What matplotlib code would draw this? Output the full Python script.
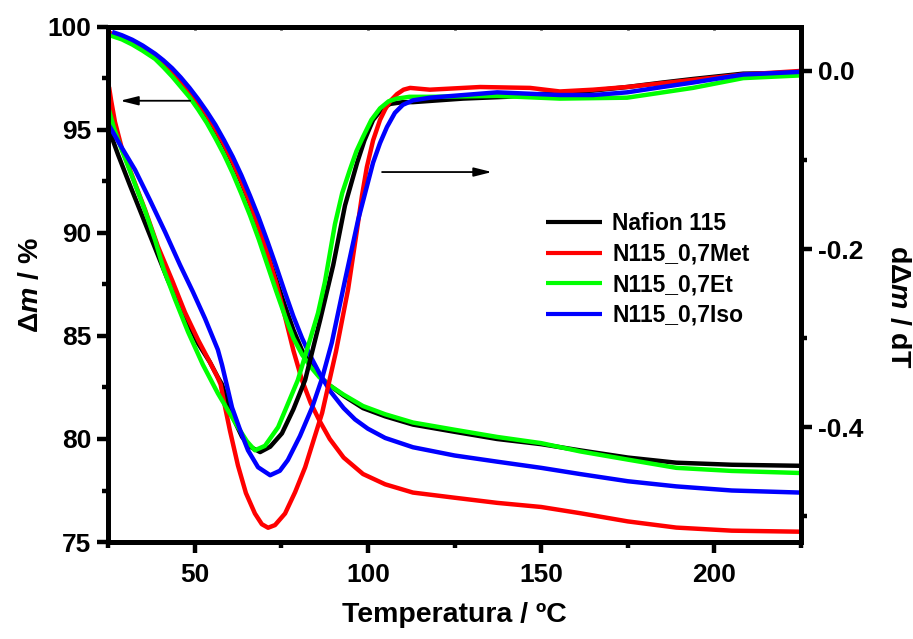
import matplotlib
matplotlib.use('Agg')
import matplotlib.pyplot as plt
from matplotlib.ticker import MultipleLocator, FixedLocator, NullFormatter

plt.rcParams['font.family'] = ['Liberation Sans', 'DejaVu Sans']
plt.rcParams['font.weight'] = 'bold'
plt.rcParams['mathtext.fontset'] = 'custom'
plt.rcParams['mathtext.rm'] = 'Liberation Sans:bold'
plt.rcParams['mathtext.it'] = 'Liberation Sans:italic:bold'
plt.rcParams['mathtext.bf'] = 'Liberation Sans:bold'
plt.rcParams['axes.unicode_minus'] = False

# ---------------- data ----------------
labels = ['Nafion 115', 'N115_0,7Met', 'N115_0,7Et', 'N115_0,7Iso']
colors = ['#000000', '#ff0000', '#00ff00', '#0000ff']

# TGA (mass, left axis)
t_tga_naf = [25.5, 29, 32, 35, 38.6, 41, 43.5, 46, 48.5, 51, 53.5, 56, 58.5, 61, 63.5, 66, 68.5, 71, 73.5, 76,
             78.5, 81, 83.5, 86, 89, 93, 98.6, 105, 113, 125, 137.3, 150, 161.2, 175, 189, 205, 224.7]
tga_naf = [99.7, 99.5, 99.25, 98.95, 98.55, 98.2, 97.8, 97.35, 96.85, 96.3, 95.7, 95.0, 94.25, 93.4, 92.45, 91.4,
           90.25, 89.0, 87.75, 86.5, 85.3, 84.3, 83.6, 83.05, 82.6, 82.1, 81.5, 81.1, 80.7, 80.35, 80.0, 79.75,
           79.45, 79.1, 78.85, 78.75, 78.7]

t_tga_met = [25.5, 29, 32, 35, 38.6, 41, 43.5, 46, 48.5, 51, 53.5, 56, 58.5, 61, 63.5, 66, 68.5, 71, 73.5, 76,
             78.5, 81, 83.5, 86, 89, 93, 98.6, 105, 113, 125, 137.3, 150, 161.2, 175, 189, 205, 224.7]
tga_met = [99.7, 99.5, 99.28, 99.0, 98.6, 98.25, 97.85, 97.4, 96.9, 96.35, 95.75, 95.05, 94.3, 93.45, 92.5, 91.45,
           90.3, 89.0, 87.6, 86.0, 84.3, 82.85, 81.75, 80.9, 80.0, 79.1, 78.3, 77.8, 77.4, 77.15, 76.9, 76.7,
           76.4, 76.0, 75.7, 75.55, 75.5]

t_tga_et = [25.5, 29, 32, 35, 38.6, 41, 43.5, 46, 48.5, 51, 53.5, 56, 58.5, 61, 63.5, 66, 68.5, 71, 73.5, 76,
            78.5, 81, 83.5, 86, 89, 93, 98.6, 105, 113, 125, 137.3, 150, 161.2, 175, 189, 205, 224.7]
tga_et = [99.6, 99.4, 99.15, 98.85, 98.45, 98.05, 97.6, 97.1, 96.6, 96.0, 95.35, 94.6, 93.8, 92.9, 91.9, 90.85,
          89.7, 88.45, 87.2, 86.0, 84.9, 84.1, 83.5, 83.0, 82.6, 82.15, 81.6, 81.2, 80.8, 80.45, 80.1, 79.8,
          79.4, 79.0, 78.6, 78.45, 78.35]

t_tga_iso = [26.2, 29, 32, 35, 38.6, 41, 43.5, 46, 48.5, 51, 53.5, 56, 58.5, 61, 63.5, 66, 68.5, 71, 73.5, 76,
             78.5, 81, 83.5, 86, 89, 93, 96.3, 100, 105, 113, 125, 137.3, 150, 161.2, 175, 189, 205, 224.7]
tga_iso = [99.76, 99.6, 99.38, 99.1, 98.7, 98.38, 98.0, 97.55, 97.05, 96.5, 95.9, 95.25, 94.5, 93.7, 92.8, 91.8,
           90.75, 89.6, 88.4, 87.15, 85.95, 84.9, 84.0, 83.2, 82.35, 81.5, 80.95, 80.5, 80.05, 79.6, 79.2, 78.9,
           78.6, 78.3, 77.95, 77.7, 77.5, 77.4]

# DTG (derivative, right axis)
t_dtg_naf = [25.3, 27.9, 31.3, 34.8, 38.6, 42.3, 46.6, 51.0, 54.4, 56.7, 57.9, 59.1, 61.4, 63.7, 66.0, 68.9, 71.8,
             75.2, 78.5, 81.9, 86.2, 90.0, 93.4, 96.9, 99, 101.5, 104, 106.4, 110, 113, 127.5, 140, 155.4, 165,
             174.8, 185, 193.8, 208.3, 224.7]
dtg_naf = [-0.066, -0.094, -0.128, -0.162, -0.199, -0.235, -0.271, -0.306, -0.327, -0.344, -0.352, -0.367, -0.392,
           -0.411, -0.422, -0.428, -0.422, -0.407, -0.380, -0.347, -0.280, -0.218, -0.151, -0.103, -0.078, -0.055,
           -0.043, -0.037, -0.035, -0.035, -0.031, -0.029, -0.024, -0.022, -0.018, -0.013, -0.009, -0.003, -0.002]

t_dtg_met = [25.3, 25.9, 27.0, 29.0, 31.9, 35.7, 39.4, 43.5, 47.2, 51.0, 54.4, 56.5, 57.5, 58.5, 60.2, 62.5, 64.8,
             67.4, 69.4, 71.2, 73.2, 76.1, 79.0, 81.9, 86.8, 90.8, 94.3, 96.8, 98.3, 99.7, 101.5, 103.5, 105,
             106.4, 108.4, 110.3, 112.2, 115, 117.9, 132.4, 146.8, 155.4, 165, 174.8, 193.8, 208.3, 224.7]
dtg_met = [-0.018, -0.033, -0.057, -0.087, -0.117, -0.156, -0.197, -0.235, -0.271, -0.302, -0.327, -0.343, -0.352,
           -0.372, -0.404, -0.443, -0.474, -0.497, -0.509, -0.513, -0.510, -0.497, -0.473, -0.445, -0.384, -0.315,
           -0.245, -0.180, -0.140, -0.108, -0.078, -0.055, -0.043, -0.034, -0.026, -0.021, -0.019, -0.020, -0.021,
           -0.018, -0.019, -0.023, -0.021, -0.018, -0.010, -0.004, 0.000]

t_dtg_et = [25.3, 26.7, 29.0, 31.9, 35.7, 38.6, 41.0, 44.3, 48.1, 52.4, 56.7, 59.6, 62.5, 65.1, 67.4, 70.3, 74.1,
            79.8, 85.6, 87.6, 90.5, 92.6, 94.8, 96.7, 98.6, 101, 103.5, 106, 108.4, 112, 117.9, 137.3, 155.4,
            174.8, 193.8, 208.3, 224.7]
dtg_et = [-0.044, -0.064, -0.089, -0.118, -0.157, -0.190, -0.222, -0.256, -0.293, -0.330, -0.362, -0.381, -0.400,
          -0.416, -0.426, -0.421, -0.400, -0.347, -0.272, -0.237, -0.172, -0.137, -0.111, -0.090, -0.074, -0.055,
          -0.042, -0.034, -0.031, -0.029, -0.029, -0.028, -0.031, -0.030, -0.019, -0.008, -0.005]

t_dtg_iso = [25.3, 28.5, 32.8, 37.1, 41.5, 45.8, 49.5, 53.0, 56.7, 57.9, 59.3, 60.8, 63.1, 65.4, 68.3, 71.8, 74.6,
             76.9, 80.4, 83.9, 86.8, 89.6, 93.4, 97.2, 101.5, 103.5, 105.5, 107.8, 110.1, 113, 117.9, 137.3, 155.4,
             165, 174.8, 185, 193.8, 208.3, 224.7]
dtg_iso = [-0.061, -0.083, -0.111, -0.145, -0.181, -0.218, -0.248, -0.278, -0.313, -0.330, -0.353, -0.378, -0.403,
           -0.426, -0.445, -0.454, -0.449, -0.437, -0.410, -0.378, -0.345, -0.305, -0.235, -0.167, -0.103, -0.081,
           -0.063, -0.047, -0.038, -0.033, -0.030, -0.024, -0.027, -0.027, -0.024, -0.018, -0.013, -0.004, -0.001]

tga_t = [t_tga_naf, t_tga_met, t_tga_et, t_tga_iso]
tga_v = [tga_naf, tga_met, tga_et, tga_iso]
dtg_t = [t_dtg_naf, t_dtg_met, t_dtg_et, t_dtg_iso]
dtg_v = [dtg_naf, dtg_met, dtg_et, dtg_iso]

x_major = [50, 100, 150, 200]
left_major = [75, 80, 85, 90, 95, 100]
right_major = [-0.4, -0.2, 0.0]
right_minor = [-0.5, -0.3, -0.1]

# ---------------- figure ----------------
fig = plt.figure(figsize=(9.13, 6.39), dpi=100)
ax = fig.add_axes([108 / 913, 1 - 542 / 639, 693 / 913, 515 / 639])
ax2 = ax.twinx()

lw = 3.2
lines = []
for t, v, c, lab in zip(tga_t, tga_v, colors, labels):
    ln, = ax.plot(t, v, color=c, lw=lw, label=lab, solid_capstyle='butt', solid_joinstyle='round')
    lines.append(ln)
for t, v, c in zip(dtg_t, dtg_v, colors):
    ax2.plot(t, v, color=c, lw=lw, solid_capstyle='butt', solid_joinstyle='round')

ax.set_xlim(25, 225)
ax.set_ylim(75, 100)
ax2.set_ylim(-0.529, 0.0494)

ax.xaxis.set_major_locator(FixedLocator(x_major))
ax.xaxis.set_minor_locator(MultipleLocator(25))
ax.yaxis.set_major_locator(FixedLocator(left_major))
ax.yaxis.set_minor_locator(MultipleLocator(2.5))
ax2.yaxis.set_major_locator(FixedLocator(right_major))
ax2.yaxis.set_minor_locator(FixedLocator(right_minor))
ax2.set_yticklabels(['%.1f' % v for v in right_major])

for a in (ax, ax2):
    for s in a.spines.values():
        s.set_linewidth(3.5)

ax.tick_params(axis='both', which='major', direction='out', length=8, width=3.2,
               labelsize=19, pad=4)
ax.tick_params(axis='both', which='minor', direction='out', length=4.5, width=3.2)
ax.tick_params(axis='x', which='both', top=False, pad=7)
ax.tick_params(axis='y', which='both', right=False)
ax2.tick_params(axis='y', which='major', direction='out', length=8, width=3.2, labelsize=19, pad=4)
ax2.tick_params(axis='y', which='minor', direction='out', length=4.5, width=3.2)
for lab in ax.get_xticklabels() + ax.get_yticklabels() + ax2.get_yticklabels():
    lab.set_fontweight('bold')

# tiny inward ticks on the top frame
secx = ax.secondary_xaxis('top')
secx.xaxis.set_major_locator(MultipleLocator(25))
secx.xaxis.set_major_formatter(NullFormatter())
secx.tick_params(direction='in', length=2.5, width=2)
secx.spines['top'].set_linewidth(3.5)

ax.set_xlabel('Temperatura / ºC', fontsize=20.5, fontweight='bold', labelpad=11)
ax.set_ylabel(r'$\Delta\mathit{m}$ / %', fontsize=20.5, fontweight='bold')
ax.yaxis.set_label_coords(-0.093, 0.5)
ax2.set_ylabel(r'd$\Delta\mathit{m}$ / dT', fontsize=20.5, fontweight='bold', rotation=270, va='bottom')
ax2.yaxis.set_label_coords(1.121, 0.456)

# arrows pointing to the corresponding axis
ax.annotate('', xy=(28.5, 96.42), xytext=(48.7, 96.42),
            arrowprops=dict(arrowstyle='-|>,head_length=0.6,head_width=0.15', color='k', lw=1.3,
                            mutation_scale=18, shrinkA=0, shrinkB=0))
ax2.annotate('', xy=(135.8, -0.1135), xytext=(104.1, -0.1135),
             arrowprops=dict(arrowstyle='-|>,head_length=0.6,head_width=0.15', color='k', lw=1.3,
                             mutation_scale=18, shrinkA=0, shrinkB=0))

leg = ax2.legend(lines, labels, loc='upper left', bbox_to_anchor=(546 / 913, 1 - 212 / 639),
                 bbox_transform=fig.transFigure, frameon=False, fontsize=16.5, handlelength=2.45,
                 handletextpad=0.45, labelspacing=0.33, borderpad=0, borderaxespad=0)
for txt in leg.get_texts():
    txt.set_fontweight('bold')
for h in leg.legend_handles:
    h.set_linewidth(3.0)

fig.savefig('out.png', dpi=100)
